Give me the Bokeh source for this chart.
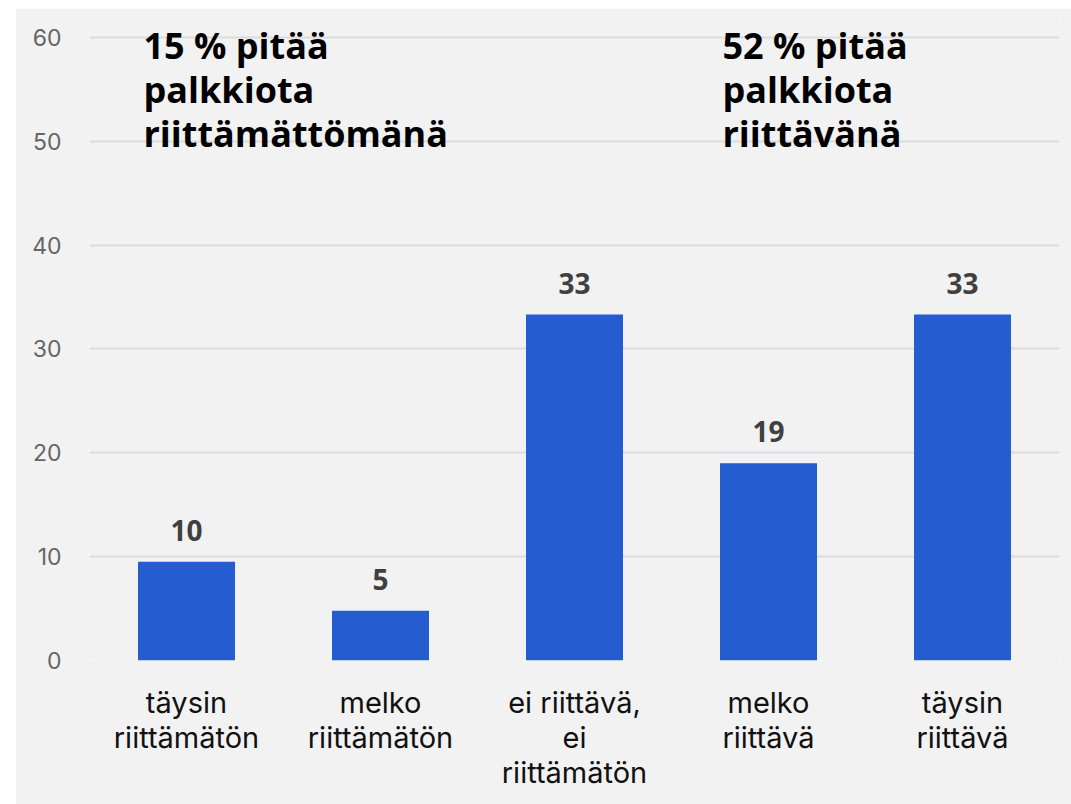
from bokeh.plotting import figure
from bokeh.models import ColumnDataSource, FactorRange, Range1d, LabelSet, Label, SingleIntervalTicker
from bokeh.core.properties import value
from bokeh.embed import file_html
from bokeh.resources import INLINE

categories = ["täysin\nriittämätön", "melko\nriittämätön", "ei riittävä,\nei\nriittämätön", "melko\nriittävä", "täysin\nriittävä"]
values = [9.5, 4.8, 33.3, 19.0, 33.3]
value_labels = ["10", "5", "33", "19", "33"]
note_left = "15 % pitää\npalkkiota\nriittämättömänä"
note_right = "52 % pitää\npalkkiota\nriittävänä"

BG = "#f2f2f2"
FONT = "Inter"
BFONT = "Open Sans"

src = ColumnDataSource(dict(cat=categories, val=values, lab=value_labels))

p = figure(width=1056, height=796, output_backend="svg", toolbar_location=None,
           x_range=FactorRange(*categories, range_padding=0), y_range=Range1d(0, 62),
           background_fill_color=BG, border_fill_color=BG, outline_line_color=None,
           min_border_left=74, min_border_right=12, min_border_top=8, min_border_bottom=144,
           margin=(8, 0, 0, 15))

p.vbar(x="cat", top="val", width=0.5, source=src, fill_color="#255dd0", line_color=None)

p.add_layout(LabelSet(x="cat", y="val", text="lab", source=src, y_offset=21,
                      text_align="center", text_baseline="bottom",
                      text_font=value(BFONT), text_font_style="bold", text_font_size="28px",
                      text_color="#404040"))

p.add_layout(Label(x=54, y=61.6, x_units="screen", y_units="data", text=note_left,
                   text_font=BFONT, text_font_style="bold", text_font_size="36px",
                   text_color="#000000", text_baseline="top", text_line_height=0.9))
p.add_layout(Label(x=633, y=61.6, x_units="screen", y_units="data", text=note_right,
                   text_font=BFONT, text_font_style="bold", text_font_size="36px",
                   text_color="#000000", text_baseline="top", text_line_height=0.9))

p.xgrid.grid_line_color = None
p.ygrid.grid_line_color = "#dcdcdc"
p.ygrid.grid_line_width = 2
p.yaxis.ticker = SingleIntervalTicker(interval=10)

for ax in (p.xaxis, p.yaxis):
    ax.axis_line_color = None
    ax.major_tick_line_color = None
    ax.minor_tick_line_color = None

p.yaxis.major_label_text_font = FONT
p.yaxis.major_label_text_font_size = "23px"
p.yaxis.major_label_text_color = "#666666"
p.yaxis.major_label_standoff = 22

p.xaxis.major_label_text_font = FONT
p.xaxis.major_label_text_font_size = "29px"
p.xaxis.major_label_text_color = "#111111"
p.xaxis.major_label_standoff = 18
p.xaxis.major_label_text_line_height = 1.0

open("out.html", "w").write(file_html(p, INLINE))
